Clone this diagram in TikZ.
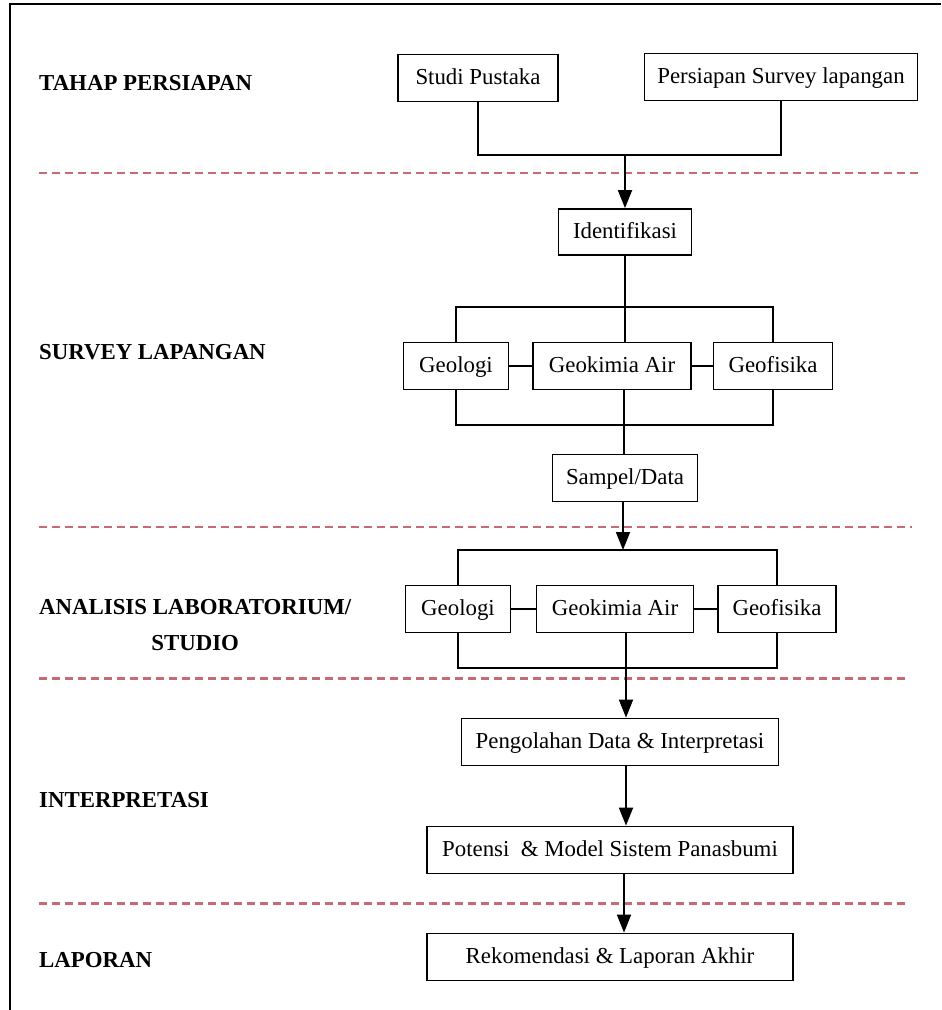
\documentclass[tikz,border=0pt]{standalone}
\usepackage{fontspec}
\setmainfont{Liberation Serif}
\usetikzlibrary{arrows.meta}
\definecolor{seprose}{RGB}{198,106,116}

\begin{document}
\begin{tikzpicture}[x=0.02cm, y=-0.02cm,
		th/.style = {line width = 1pt},
		box/.style = {draw, th, inner sep = 2pt, text height = 1em, text depth = 0.3em, minimum height = 0.94cm, font = \fontsize{13}{15}\selectfont},
		phase/.style = {anchor = west, align = center, font = \fontsize{13}{20}\selectfont\bfseries},
		sep/.style = {draw = seprose, line width = 1.7pt, dash pattern = on 0.16cm off 0.1cm},
		arr/.style = {th, -{Triangle[length = 0.36cm, width = 0.28cm]}}]
		\useasboundingbox (0,0) rectangle (941,1010);
		\draw[th] (10,1010) -- (10,4) -- (941,4);

		\node[phase] (tahap) at (33,83) {TAHAP PERSIAPAN};
		\node[phase] (survey) at (33,352) {SURVEY LAPANGAN};
		\node[phase] (analisis) at (33,625) {ANALISIS LABORATORIUM/\\STUDIO};
		\node[phase] (interpretasi) at (33,800) {INTERPRETASI};
		\node[phase] (laporan) at (33,960) {LAPORAN};

		\draw[sep] (39,173) -- (918,173);
		\draw[sep] (39,527) -- (912,527);
		\draw[sep] (39,678) -- (906,678);
		\draw[sep] (39,903) -- (906,903);

		\node[box, minimum width = 3.2cm] (studi) at (478,78) {Studi Pustaka};
		\node[box, minimum width = 5.46cm] (persiapan) at (781,77) {Persiapan Survey lapangan};
		\node[box, minimum width = 2.66cm, minimum height = 0.92cm] (identifikasi) at (625,232) {Identifikasi};

		\node[box, minimum width = 2.1cm] (geologiA) at (456,366) {Geologi};
		\node[box, minimum width = 3.16cm] (geokimiaA) at (612,366) {Geokimia Air};
		\node[box, minimum width = 2.38cm] (geofisikaA) at (773,366) {Geofisika};
		\node[box, minimum width = 2.9cm] (sampel) at (625,478) {Sampel/Data};

		\node[box, minimum width = 2.1cm] (geologiB) at (458,609) {Geologi};
		\node[box, minimum width = 3.14cm] (geokimiaB) at (615,609) {Geokimia Air};
		\node[box, minimum width = 2.36cm] (geofisikaB) at (777,609) {Geofisika};

		\node[box, minimum width = 6.34cm] (pengolahan) at (620,742) {Pengolahan Data \& Interpretasi};
		\node[box, minimum width = 7.32cm] (potensi) at (610,850) {Potensi\ \ \& Model Sistem Panasbumi};
		\node[box, minimum width = 7.32cm] (rekomendasi) at (610,957) {Rekomendasi \& Laporan Akhir};

		\coordinate (j1) at (625,155);
		\draw[th] (studi.south) |- (j1) -| (persiapan.south);
		\draw[arr] (j1) -- (identifikasi.north);

		\coordinate (t1) at (624,307);
		\coordinate (b1) at (624,425);
		\draw[th] (identifikasi.south) -- (identifikasi.south |- geokimiaA.north);
		\draw[th] (geologiA.north) |- (t1) -| (geofisikaA.north);
		\draw[th] (geologiA.east) -- (geokimiaA.west);
		\draw[th] (geokimiaA.east) -- (geofisikaA.west);
		\draw[th] (geologiA.south) |- (b1) -| (geofisikaA.south);
		\draw[th] (b1 |- geokimiaA.south) -- (sampel.north -| b1);

		\coordinate (t2) at (623,550);
		\coordinate (b2) at (626,668);
		\draw[arr] (sampel.south -| t2) -- (t2);
		\draw[th] (geologiB.north) |- (t2) -| (geofisikaB.north);
		\draw[th] (geologiB.east) -- (geokimiaB.west);
		\draw[th] (geokimiaB.east) -- (geofisikaB.west);
		\draw[th] (geologiB.south) |- (b2) -| (geofisikaB.south);
		\draw[arr] (b2 |- geokimiaB.south) -- (b2 |- pengolahan.north);

		\draw[arr] (pengolahan.south -| b2) -- (potensi.north -| b2);
		\draw[arr] (potensi.south -| b1) -- (rekomendasi.north -| b1);
	\end{tikzpicture}
\end{document}
